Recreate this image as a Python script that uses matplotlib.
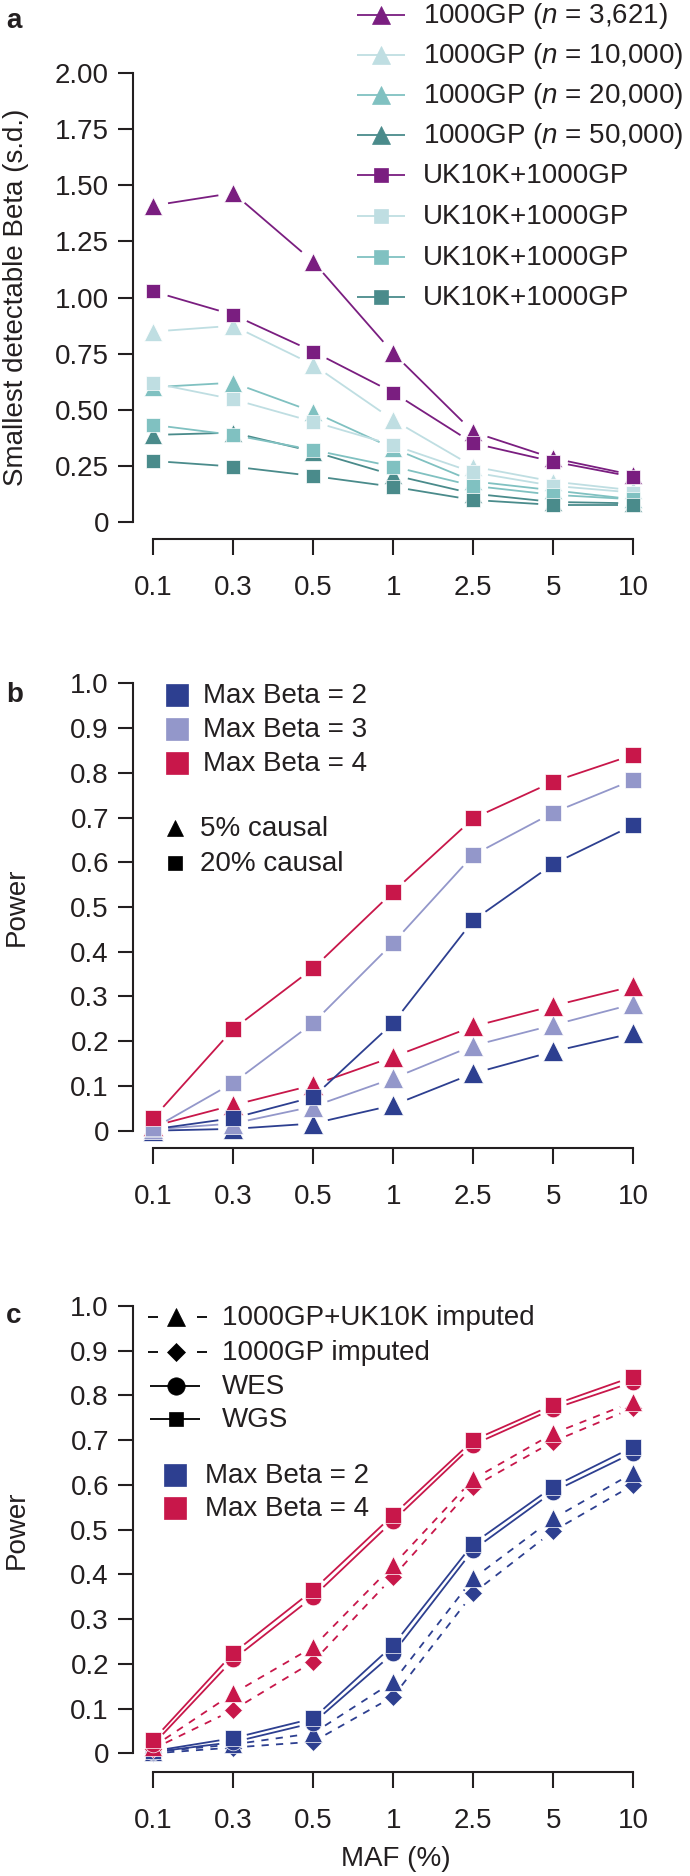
import numpy as np
import matplotlib
matplotlib.use('Agg')
import matplotlib.pyplot as plt
from matplotlib.lines import Line2D

plt.rcParams['font.family'] = ['Liberation Sans', 'DejaVu Sans']
plt.rcParams['mathtext.fontset'] = 'custom'
plt.rcParams['mathtext.it'] = 'Liberation Sans:italic'
plt.rcParams['mathtext.rm'] = 'Liberation Sans'

# ---------------- data ----------------
maf_labels = ['0.1', '0.3', '0.5', '1', '2.5', '5', '10']

# panel a: smallest detectable beta
gp_3621 = [1.41, 1.466, 1.16, 0.752, 0.40, 0.283, 0.208]
gp_10000 = [0.848, 0.874, 0.70, 0.454, 0.246, 0.179, 0.14]
gp_20000 = [0.60, 0.62, 0.49, 0.327, 0.18, 0.14, 0.10]
gp_50000 = [0.387, 0.397, 0.313, 0.208, 0.125, 0.088, 0.082]
uk_3621 = [1.027, 0.923, 0.759, 0.576, 0.35, 0.268, 0.20]
uk_10000 = [0.618, 0.546, 0.446, 0.342, 0.22, 0.16, 0.13]
uk_20000 = [0.432, 0.387, 0.32, 0.246, 0.16, 0.12, 0.10]
uk_50000 = [0.271, 0.246, 0.204, 0.156, 0.097, 0.075, 0.075]
a_labels = ['1000GP ($n$ = 3,621)', '1000GP ($n$ = 10,000)', '1000GP ($n$ = 20,000)',
            '1000GP ($n$ = 50,000)', 'UK10K+1000GP', 'UK10K+1000GP', 'UK10K+1000GP',
            'UK10K+1000GP']
a_ticks = [0, 0.25, 0.5, 0.75, 1.0, 1.25, 1.5, 1.75, 2.0]
a_ticklabels = ['0', '0.25', '0.50', '0.75', '1.00', '1.25', '1.50', '1.75', '2.00']

# panel b: power, 20% causal (squares) and 5% causal (triangles)
b2_20 = [0.003, 0.028, 0.075, 0.241, 0.47, 0.596, 0.683]
b3_20 = [0.005, 0.107, 0.241, 0.42, 0.616, 0.711, 0.784]
b4_20 = [0.028, 0.227, 0.363, 0.534, 0.698, 0.78, 0.84]
b2_5 = [0.0, 0.004, 0.016, 0.057, 0.128, 0.177, 0.218]
b3_5 = [0.003, 0.016, 0.054, 0.117, 0.19, 0.236, 0.283]
b4_5 = [0.01, 0.057, 0.102, 0.165, 0.233, 0.279, 0.323]
b_labels = ['Max Beta = 2', 'Max Beta = 3', 'Max Beta = 4']
causal_labels = ['5% causal', '20% causal']

# panel c: power by technology
c4_wgs = [0.03, 0.224, 0.365, 0.533, 0.70, 0.779, 0.842]
c4_wes = [0.02, 0.21, 0.35, 0.52, 0.69, 0.77, 0.83]
c4_uk = [0.015, 0.134, 0.238, 0.421, 0.613, 0.715, 0.786]
c4_gp = [0.01, 0.097, 0.205, 0.395, 0.596, 0.697, 0.772]
c2_wgs = [0.005, 0.034, 0.078, 0.242, 0.469, 0.596, 0.685]
c2_wes = [0.003, 0.025, 0.068, 0.224, 0.455, 0.585, 0.672]
c2_uk = [0.003, 0.02, 0.045, 0.16, 0.391, 0.525, 0.627]
c2_gp = [0.0, 0.013, 0.026, 0.127, 0.358, 0.497, 0.60]
c_labels = ['1000GP+UK10K imputed', '1000GP imputed', 'WES', 'WGS']
c_beta_labels = ['Max Beta = 2', 'Max Beta = 4']
p_ticks = [0, 0.1, 0.2, 0.3, 0.4, 0.5, 0.6, 0.7, 0.8, 0.9, 1.0]
p_ticklabels = ['0', '0.1', '0.2', '0.3', '0.4', '0.5', '0.6', '0.7', '0.8', '0.9', '1.0']

# ---------------- style ----------------
PURPLE = '#7A1E80'
LTEAL = '#BFDEE2'
MTEAL = '#80C1C1'
DTEAL = '#4A8B8B'
NAVY = '#2D3F90'
LAV = '#9397CA'
RED = '#C8174A'
INK = '#231F20'
FS = 20
LW = 1.3

W, H = 690, 1876
fig = plt.figure(figsize=(W / 100, H / 100), dpi=100)


def fx(x):
    return x / W


def fy(y):
    return 1 - y / H


def make_axes(top_px, bottom_px, ylim, ytop, yticks, yticklabels):
    left_px, right_px = 133.0, 657.2
    ax = fig.add_axes([fx(left_px), fy(bottom_px), (right_px - left_px) / W,
                       (bottom_px - top_px) / H])
    ax.set_xlim(-0.2525, 6.3)
    ax.set_ylim(*ylim)
    for s in ['top', 'right']:
        ax.spines[s].set_visible(False)
    for s in ['left', 'bottom']:
        ax.spines[s].set_linewidth(1.5)
        ax.spines[s].set_color(INK)
    ax.spines['left'].set_bounds(0, ytop)
    ax.spines['bottom'].set_bounds(0, 6)
    ax.set_yticks(yticks)
    ax.set_yticklabels(yticklabels)
    ax.set_xticks(range(len(maf_labels)))
    ax.set_xticklabels(maf_labels)
    ax.tick_params(axis='y', length=10.8, width=1.5, pad=6.5, labelsize=FS,
                   colors=INK, direction='out')
    ax.tick_params(axis='x', length=11.3, width=1.5, pad=14.5, labelsize=FS,
                   colors=INK, direction='out')
    ax.patch.set_visible(False)
    return ax


def draw(ax, ys, color, marker, ms, ls='-', gap=15, z=2):
    xs = np.arange(len(ys), dtype=float)
    ys = np.asarray(ys, dtype=float)
    pts = ax.transData.transform(np.column_stack([xs, ys]))
    inv = ax.transData.inverted()
    for p0, p1 in zip(pts[:-1], pts[1:]):
        d = p1 - p0
        L = np.hypot(*d)
        if L <= 2 * gap:
            continue
        u = d / L
        seg = inv.transform(np.vstack([p0 + u * gap, p1 - u * gap]))
        ax.plot(seg[:, 0], seg[:, 1], color=color, lw=LW, ls=ls,
                solid_capstyle='butt', dash_capstyle='butt', clip_on=False, zorder=z)
    ax.plot(xs, ys, ls='none', marker=marker, ms=ms, color=color, mec='white',
            mew=0.5, clip_on=False, zorder=z + 0.5)


def leg_line(x0, x1, y, color, ls='-'):
    fig.add_artist(Line2D([fx(x0), fx(x1)], [fy(y), fy(y)], transform=fig.transFigure,
                          color=color, lw=LW, ls=ls, solid_capstyle='butt'))


def leg_marker(x, y, marker, ms, color):
    fig.add_artist(Line2D([fx(x)], [fy(y)], transform=fig.transFigure, ls='none',
                          marker=marker, ms=ms, color=color, mec=color, mew=0.5))


def leg_text(x, y, s):
    fig.text(fx(x), fy(y), s, ha='left', va='center', fontsize=FS, color=INK)


# ---------------- panel a ----------------
axa = make_axes(73.3, 539.3, (-0.0785, 2.0), 2.0, a_ticks, a_ticklabels)
a_series = [(gp_3621, PURPLE, '^'), (gp_10000, LTEAL, '^'), (gp_20000, MTEAL, '^'),
            (gp_50000, DTEAL, '^'), (uk_3621, PURPLE, 's'), (uk_10000, LTEAL, 's'),
            (uk_20000, MTEAL, 's'), (uk_50000, DTEAL, 's')]
for i, (ys, col, mk) in enumerate(a_series):
    draw(axa, ys, col, mk, 12.5 if mk == '^' else 9.5, gap=15, z=2 + i * 0.01)

a_leg_y = [15, 55, 95, 135, 175, 216, 257, 297]
for (ys, col, mk), lab, yy in zip(a_series, a_labels, a_leg_y):
    leg_line(356.5, 405, yy, col)
    leg_marker(380.7, yy, mk, 12.5 if mk == '^' else 9.5, col)
    leg_text(422.5, yy + 1, lab)

fig.text(fx(16), fy(297.5), 'Smallest detectable Beta (s.d.)', rotation=90,
         ha='center', va='center', fontsize=FS, color=INK)
fig.text(fx(6), fy(28), 'a', fontsize=FS, fontweight='bold', color=INK, va='baseline')

# ---------------- panel b ----------------
axb = make_axes(683.3, 1148.3, (-0.0394, 1.0), 1.0, p_ticks, p_ticklabels)
b_cols = [NAVY, LAV, RED]
for ys, col in zip([b2_5, b3_5, b4_5], b_cols):
    draw(axb, ys, col, '^', 14, gap=15)
for ys, col in zip([b2_20, b3_20, b4_20], b_cols):
    draw(axb, ys, col, 's', 11.5, gap=15)

for lab, col, yy in zip(b_labels, b_cols, [695, 729.3, 763.3]):
    leg_marker(177.5, yy, 's', 15.5, col)
    leg_text(203, yy + 1, lab)
for lab, mk, ms, yy in zip(causal_labels, ['^', 's'], [12, 9.6], [828.3, 863.3]):
    leg_marker(175.5, yy, mk, ms, 'black')
    leg_text(200, yy + 1, lab)

fig.text(fx(17), fy(906.5), 'Power', rotation=90, ha='center', va='center',
         fontsize=FS, color=INK)
fig.text(fx(6), fy(702), 'b', fontsize=FS, fontweight='bold', color=INK, va='baseline')

# ---------------- panel c ----------------
axc = make_axes(1306, 1771.7, (-0.041, 1.0), 1.0, p_ticks, p_ticklabels)
DASH = (0, (4, 4))
for col, wes, wgs, uk, gp in [(NAVY, c2_wes, c2_wgs, c2_uk, c2_gp),
                              (RED, c4_wes, c4_wgs, c4_uk, c4_gp)]:
    draw(axc, gp, col, 'D', 9.5, ls=DASH, gap=14)
    draw(axc, uk, col, '^', 12.5, ls=DASH, gap=14)
    draw(axc, wes, col, 'o', 12, gap=14)
    draw(axc, wgs, col, 's', 11.5, gap=14)

c_leg_y = [1316.7, 1351.7, 1385.7, 1419.3]
c_mk = [('^', 12.5), ('D', 9), ('o', 12.5), ('s', 10.5)]
for i, (lab, (mk, ms), yy) in enumerate(zip(c_labels, c_mk, c_leg_y)):
    if i < 2:
        leg_line(147.5, 157.6, yy, 'black')
        leg_line(197, 207, yy, 'black')
    else:
        leg_line(149.6, 200.3, yy, 'black')
    leg_marker(176, yy, mk, ms, 'black')
    leg_text(222.3, yy + 1, lab)

for lab, col, yy in zip(c_beta_labels, [NAVY, RED], [1475, 1508.3]):
    leg_marker(175, yy, 's', 15.5, col)
    leg_text(204.7, yy + 1, lab)

fig.text(fx(17), fy(1529.6), 'Power', rotation=90, ha='center', va='center',
         fontsize=FS, color=INK)
fig.text(fx(6), fy(1323), 'c', fontsize=FS, fontweight='bold', color=INK, va='baseline')
fig.text(fx(396), fy(1859), 'MAF (%)', ha='center', va='center', fontsize=FS, color=INK)

fig.savefig('out.png', dpi=100)
